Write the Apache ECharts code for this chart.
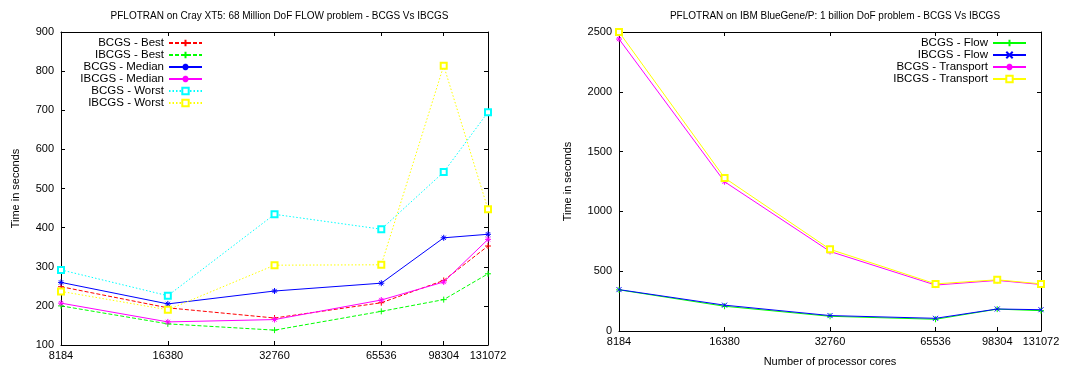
<!DOCTYPE html>
<html>
<head>
<meta charset="utf-8">
<script src="https://cdn.jsdelivr.net/npm/echarts@6/dist/echarts.min.js"></script>
<style>
html,body{margin:0;padding:0;background:#fff;}
#c{width:1078px;height:366px;}
</style>
</head>
<body>
<div id="c"></div>
<script>
// ---- data ----
const cores = [8184, 16380, 32760, 65536, 98304, 131072];

// Left: Cray XT5, 68 Million DoF FLOW problem
const bcgsBest     = [249, 195, 169, 208, 265, 353];
const ibcgsBest    = [200, 154, 138, 186, 216, 282];
const bcgsMedian   = [260, 205, 238, 258, 374, 383];
const ibcgsMedian  = [207, 159, 165, 215, 261, 370];
const bcgsWorst    = [292, 226, 434, 396, 542, 695];
const ibcgsWorst   = [237, 190, 304, 305, 814, 447];

// Right: IBM BlueGene/P, 1 billion DoF problem
const bcgsFlow       = [344, 207, 123, 98, 183, 170];
const ibcgsFlow      = [346, 216, 129, 106, 184, 178];
const bcgsTransport  = [2441, 1248, 665, 384, 423, 389];
const ibcgsTransport = [2500, 1280, 683, 394, 428, 394];

const leftTitle = 'PFLOTRAN on Cray XT5: 68 Million DoF FLOW problem - BCGS Vs IBCGS';
const rightTitle = 'PFLOTRAN on IBM BlueGene/P: 1 billion DoF problem - BCGS Vs IBCGS';
const yName = 'Time in seconds';
const xName = 'Number of processor cores';

// ---- styling helpers ----
const FONT = '"Liberation Sans", Arial, sans-serif';
const SYM_PLUS = 'path://M0,5L10,5M5,0L5,10';
const SYM_X = 'path://M0,0L10,10M10,0L0,10';
const SYM_STAR = 'path://M0,5L10,5M5,0L5,10M1.5,1.5L8.5,8.5M8.5,1.5L1.5,8.5';
const DASH = [4, 2];
const DOT = [1.5, 2];

function pts(vals) { return cores.map((c, i) => [c, vals[i]]); }

function mk(name, vals, color, lineType, symbol, size, xi, yi, z) {
  return {
    type: 'line', name: name, data: pts(vals),
    xAxisIndex: xi, yAxisIndex: yi, z: z,
    symbol: symbol, symbolSize: size, showSymbol: true,
    animation: false,
    lineStyle: { color: color, width: 1, type: lineType },
    itemStyle: { color: color, borderColor: color, borderWidth: 1 },
    emphasis: { disabled: true }
  };
}

function xAxisDef(gi, pos, showLabel, nameTxt) {
  return {
    gridIndex: gi, type: 'log', logBase: 2, position: pos,
    min: cores[0], max: cores[cores.length - 1],
    name: nameTxt || '', nameLocation: 'middle', nameGap: 25,
    nameTextStyle: { fontFamily: FONT, fontSize: 11, color: '#000' },
    axisLine: { show: true, onZero: false, lineStyle: { color: '#000', width: 1 } },
    axisTick: { show: true, inside: true, length: 4, customValues: cores, lineStyle: { color: '#000' } },
    axisLabel: { show: showLabel, customValues: cores, margin: 5,
      formatter: v => String(Math.round(v)),
      fontFamily: FONT, fontSize: 11, color: '#000', hideOverlap: false },
    minorTick: { show: false },
    splitLine: { show: false }
  };
}

function yAxisDef(gi, pos, showLabel, min, max, interval, nameTxt, nameGap) {
  return {
    gridIndex: gi, type: 'value', position: pos, min: min, max: max, interval: interval,
    name: nameTxt || '', nameLocation: 'middle', nameGap: nameGap || 40,
    nameTextStyle: { fontFamily: FONT, fontSize: 11, color: '#000' },
    axisLine: { show: true, onZero: false, lineStyle: { color: '#000', width: 1 } },
    axisTick: { show: true, inside: true, length: 4, lineStyle: { color: '#000' } },
    axisLabel: { show: showLabel, margin: 7, formatter: v => String(v),
      fontFamily: FONT, fontSize: 11, color: '#000' },
    splitLine: { show: false }
  };
}

const chart = echarts.init(document.getElementById('c'), null, { renderer: 'canvas' });

const legendCommon = {
  orient: 'vertical', align: 'right', padding: 0,
  itemWidth: 33, itemHeight: 8, itemGap: 0,
  textStyle: { fontFamily: FONT, fontSize: 11.5, color: '#000', lineHeight: 12 },
  selectedMode: false
};

const option = {
  animation: false,
  backgroundColor: '#fff',
  title: [
    { text: leftTitle, left: 274.5, top: 6, textAlign: 'center',
      textStyle: { fontFamily: FONT, fontSize: 10, fontWeight: 'normal', color: '#000' } },
    { text: rightTitle, left: 830, top: 6, textAlign: 'center',
      textStyle: { fontFamily: FONT, fontSize: 10, fontWeight: 'normal', color: '#000' } }
  ],
  grid: [
    { left: 61, right: 590, top: 32, bottom: 21, containLabel: false, outerBoundsMode: 'none' },
    { left: 619, right: 37, top: 32, bottom: 35, containLabel: false, outerBoundsMode: 'none' }
  ],
  xAxis: [
    xAxisDef(0, 'bottom', true),
    xAxisDef(0, 'top', false),
    xAxisDef(1, 'bottom', true, xName),
    xAxisDef(1, 'top', false)
  ],
  yAxis: [
    yAxisDef(0, 'left', true, 100, 900, 100, yName, 40),
    yAxisDef(0, 'right', false, 100, 900, 100),
    yAxisDef(1, 'left', true, 0, 2500, 500, yName, 46),
    yAxisDef(1, 'right', false, 0, 2500, 500)
  ],
  legend: [
    Object.assign({}, legendCommon, {
      right: 875, top: 37,
      data: ['BCGS - Best', 'IBCGS - Best', 'BCGS - Median', 'IBCGS - Median', 'BCGS - Worst', 'IBCGS - Worst']
    }),
    Object.assign({}, legendCommon, {
      right: 51, top: 37,
      data: ['BCGS - Flow', 'IBCGS - Flow', 'BCGS - Transport', 'IBCGS - Transport']
    })
  ],
  series: [
    mk('BCGS - Best',    bcgsBest,    '#ff0000', DASH,    SYM_PLUS,  6, 0, 0, 2),
    mk('IBCGS - Best',   ibcgsBest,   '#00ff00', DASH,    SYM_PLUS,  6, 0, 0, 3),
    mk('BCGS - Median',  bcgsMedian,  '#0000ff', 'solid', SYM_STAR,  6, 0, 0, 4),
    mk('IBCGS - Median', ibcgsMedian, '#ff00ff', 'solid', SYM_STAR,  6, 0, 0, 5),
    mk('BCGS - Worst',   bcgsWorst,   '#00ffff', DOT,     'emptyRect', 6, 0, 0, 6),
    mk('IBCGS - Worst',  ibcgsWorst,  '#ffff00', DOT,     'emptyRect', 6, 0, 0, 7),

    mk('BCGS - Flow',       bcgsFlow,       '#00ff00', 'solid', SYM_PLUS,  6, 2, 2, 2),
    mk('IBCGS - Flow',      ibcgsFlow,      '#0000ff', 'solid', SYM_X,     5, 2, 2, 3),
    mk('BCGS - Transport',  bcgsTransport,  '#ff00ff', 'solid', SYM_STAR,  6, 2, 2, 4),
    mk('IBCGS - Transport', ibcgsTransport, '#ffff00', 'solid', 'emptyRect', 6, 2, 2, 5)
  ]
};
chart.setOption(option);
</script>
</body>
</html>
